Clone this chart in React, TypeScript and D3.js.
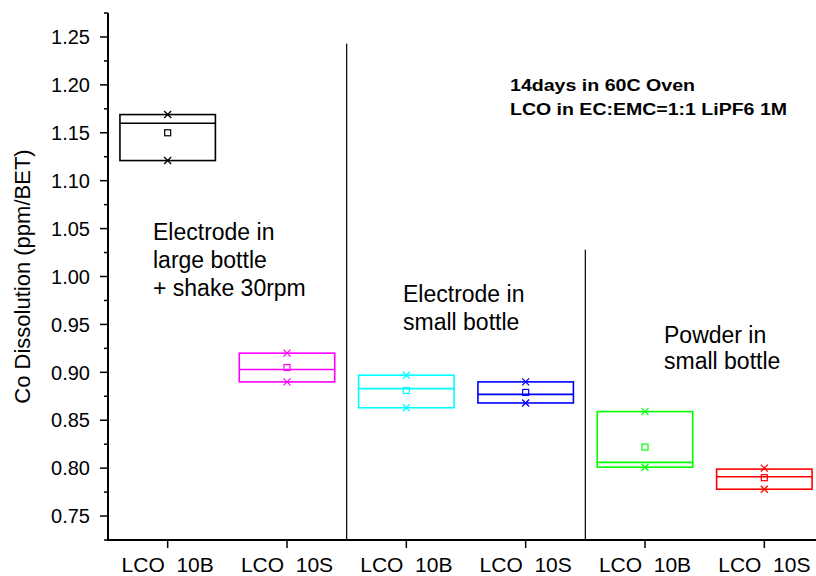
import React from "react";
import { scaleLinear, range } from "d3";

const categories = ["LCO  10B", "LCO  10S", "LCO  10B", "LCO  10S", "LCO  10B", "LCO  10S"];
const colors = ["#000000", "#ff00ff", "#00ffff", "#0000ff", "#00ff00", "#ff0000"];
// box statistics
const boxTop = [1.169, 0.920, 0.897, 0.890, 0.859, 0.799];
const boxMedian = [1.160, 0.903, 0.883, 0.877, 0.806, 0.791];
const boxBottom = [1.121, 0.890, 0.863, 0.868, 0.801, 0.778];
const meanValues = [1.150, 0.905, 0.881, 0.879, 0.822, 0.790];
const maxValues = [1.169, 0.920, 0.897, 0.890, 0.859, 0.800];
const minValues = [1.121, 0.890, 0.863, 0.868, 0.801, 0.778];

const yTicks = [0.75, 0.8, 0.85, 0.9, 0.95, 1.0, 1.05, 1.1, 1.15, 1.2, 1.25];
const separatorX = [2.5, 4.5];
const separatorTop = [1.243, 1.028];

const W = 816;
const H = 576;
const font = "Arial, 'Liberation Sans', sans-serif";

export default function App() {
  const x = scaleLinear().domain([0.5, 6.5]).range([108, 824]);
  const y = scaleLinear().domain([0.725, 1.275]).range([540, 13]);
  const half = 0.4;
  const minorTicks = range(0, 12).map((i) => 0.725 + i * 0.05);

  return (
    <div style={{ position: "absolute", left: 0, top: 0 }}>
      <svg width={W} height={H} style={{ display: "block", background: "#fff" }} fontFamily={font}>
        <rect width={W} height={H} fill="#fff" />

        {/* separators */}
        {separatorX.map((s, i) => (
          <line key={`sep-${i}`} x1={x(s)} x2={x(s)} y1={y(separatorTop[i])} y2={y(0.725)} stroke="#000" strokeWidth={1.2} />
        ))}

        {/* boxes */}
        {categories.map((c, i) => {
          const cx = x(i + 1);
          const x0 = x(i + 1 - half);
          const x1 = x(i + 1 + half);
          const col = colors[i];
          const m = 3.5;
          return (
            <g key={`box-${i}`} stroke={col} fill="none" strokeWidth={1.6}>
              <rect x={x0} y={y(boxTop[i])} width={x1 - x0} height={y(boxBottom[i]) - y(boxTop[i])} />
              <line x1={x0} x2={x1} y1={y(boxMedian[i])} y2={y(boxMedian[i])} />
              <rect x={cx - 3} y={y(meanValues[i]) - 3} width={6} height={6} strokeWidth={1.2} />
              {[maxValues[i], minValues[i]].map((v, k) => (
                <g key={k} strokeWidth={1.3}>
                  <line x1={cx - m} x2={cx + m} y1={y(v) - m} y2={y(v) + m} />
                  <line x1={cx - m} x2={cx + m} y1={y(v) + m} y2={y(v) - m} />
                </g>
              ))}
            </g>
          );
        })}

        {/* y axis */}
        <line x1={108} x2={108} y1={y(1.275)} y2={y(0.725) + 1} stroke="#000" strokeWidth={2} />
        {minorTicks.map((t, i) => (
          <line key={`mt-${i}`} x1={104} x2={108} y1={y(t)} y2={y(t)} stroke="#000" strokeWidth={1.5} />
        ))}
        {yTicks.map((t, i) => (
          <g key={`yt-${i}`}>
            <line x1={100} x2={108} y1={y(t)} y2={y(t)} stroke="#000" strokeWidth={1.5} />
            <text x={90} y={y(t)} dy="0.36em" textAnchor="end" fontSize={20} fill="#000">
              {t.toFixed(2)}
            </text>
          </g>
        ))}
        <text
          transform={`translate(30,${y(1.0)}) rotate(-90)`}
          textAnchor="middle"
          fontSize={22}
          fill="#000"
        >
          Co Dissolution (ppm/BET)
        </text>

        {/* x axis */}
        <line x1={107} x2={W} y1={540} y2={540} stroke="#000" strokeWidth={2} />
        {categories.map((c, i) => (
          <g key={`xt-${i}`}>
            <line x1={x(i + 1)} x2={x(i + 1)} y1={540} y2={548} stroke="#000" strokeWidth={1.5} />
            <text x={x(i + 1)} y={572} textAnchor="middle" fontSize={21} fill="#000" style={{ whiteSpace: "pre" }}>
              {c}
            </text>
          </g>
        ))}

        {/* annotations */}
        <g fontWeight="bold" fontSize={16} fill="#000">
          <text x={510} y={91} textLength={185} lengthAdjust="spacingAndGlyphs">14days in 60C Oven</text>
          <text x={510} y={115} textLength={277} lengthAdjust="spacingAndGlyphs">LCO in EC:EMC=1:1 LiPF6 1M</text>
        </g>
        <g fontSize={23} fill="#000">
          <text x={153} y={240}>Electrode in</text>
          <text x={153} y={268}>large bottle</text>
          <text x={153} y={296}>+ shake 30rpm</text>
          <text x={403} y={302}>Electrode in</text>
          <text x={403} y={330}>small bottle</text>
          <text x={664} y={343}>Powder in</text>
          <text x={664} y={369}>small bottle</text>
        </g>
      </svg>
    </div>
  );
}
